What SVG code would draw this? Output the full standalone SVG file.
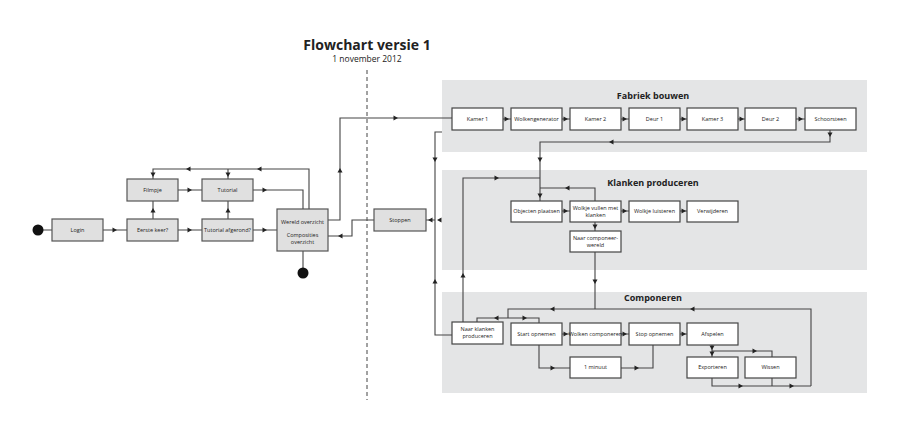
<svg xmlns="http://www.w3.org/2000/svg" width="900" height="431" viewBox="0 0 900 431">
<style>
text{font-family:"Open Sans","DejaVu Sans",sans-serif;fill:#222;text-anchor:middle}
.t{font-size:5.5px}
.h{font-size:9px;font-weight:bold}
.g{fill:#e0e0e0;stroke:#555;stroke-width:1.2}
.w{fill:#fff;stroke:#444;stroke-width:1.2}
.p{fill:#e4e5e6}
.l{fill:none;stroke:#444;stroke-width:1.1}
.a{fill:#222}
</style>
<defs><path id="ar" d="M-2.5,-2.5 L2,0 L-2.5,2.5 z"/></defs>
<rect width="900" height="431" fill="#fff"/>
<text x="367" y="50" style="font-size:14px;font-weight:bold">Flowchart versie 1</text>
<text x="367" y="62" style="font-size:8.5px">1 november 2012</text>
<line x1="367" y1="70" x2="367" y2="400" stroke="#444" stroke-width="1" stroke-dasharray="4,3"/>
<g id="panels">
<rect class="p" x="442" y="80" width="425" height="72"/>
<rect class="p" x="442" y="170" width="425" height="100"/>
<rect class="p" x="442" y="292" width="425" height="101"/>
<text class="h" x="653" y="99">Fabriek bouwen</text>
<text class="h" x="653" y="186">Klanken produceren</text>
<text class="h" x="653" y="301">Componeren</text>
</g>
<g id="connectors">
<path class="l" d="M43,230H52M103,230H127M178,230H202M253,230H277"/>
<path class="l" d="M153,219V201M228,219V201M178,190H202M253,190H303V209M309,209V169H153V179M228,169V179"/>
<path class="l" d="M303,251V268"/>
<path class="l" d="M328,220H340V118H452"/>
<path class="l" d="M374,220H352V236H328"/>
<path class="l" d="M503,119H511M562,119H570M621,119H629M680,119H687M738,119H745M796,119H805"/>
<path class="l" d="M830,130V142H540V201M463,322V178H540M595,201V188H540"/>
<path class="l" d="M562,211H570M621,211H629M680,211H687M595,222V231M595,252V309"/>
<path class="l" d="M442,132H435V335H452M435,220H426"/>
<path class="l" d="M811,386V309H508V318M477,322V318H539V323"/>
<path class="l" d="M562,334H570M621,334H629M680,334H687M539,345V368H570M621,368H653V345"/>
<path class="l" d="M712,345V357M712,351H772V357M712,378V386H811M772,378V386"/>
<g class="a">
<use href="#ar" transform="translate(115,230)"/>
<use href="#ar" transform="translate(190,230)"/>
<use href="#ar" transform="translate(265,230)"/>
<use href="#ar" transform="translate(190,190)"/>
<use href="#ar" transform="translate(265,190)"/>
<use href="#ar" transform="translate(153,210) rotate(-90)"/>
<use href="#ar" transform="translate(228,210) rotate(-90)"/>
<use href="#ar" transform="translate(153,175) rotate(90)"/>
<use href="#ar" transform="translate(228,175) rotate(90)"/>
<use href="#ar" transform="translate(188,169) rotate(180)"/>
<use href="#ar" transform="translate(259,169) rotate(180)"/>
<use href="#ar" transform="translate(340,170) rotate(-90)"/>
<use href="#ar" transform="translate(396,118)"/>
<use href="#ar" transform="translate(340,236) rotate(180)"/>
<use href="#ar" transform="translate(507,119)"/>
<use href="#ar" transform="translate(566,119)"/>
<use href="#ar" transform="translate(625,119)"/>
<use href="#ar" transform="translate(684,119)"/>
<use href="#ar" transform="translate(742,119)"/>
<use href="#ar" transform="translate(801,119)"/>
<use href="#ar" transform="translate(830,135) rotate(90)"/>
<use href="#ar" transform="translate(611,142) rotate(180)"/>
<use href="#ar" transform="translate(540,160) rotate(90)"/>
<use href="#ar" transform="translate(540,196) rotate(90)"/>
<use href="#ar" transform="translate(497,178)"/>
<use href="#ar" transform="translate(567,188) rotate(180)"/>
<use href="#ar" transform="translate(566,211)"/>
<use href="#ar" transform="translate(625,211)"/>
<use href="#ar" transform="translate(684,211)"/>
<use href="#ar" transform="translate(595,227) rotate(90)"/>
<use href="#ar" transform="translate(595,282) rotate(90)"/>
<use href="#ar" transform="translate(435,160) rotate(90)"/>
<use href="#ar" transform="translate(435,281) rotate(-90)"/>
<use href="#ar" transform="translate(430,220) rotate(180)"/>
<use href="#ar" transform="translate(439,220) rotate(180)"/>
<use href="#ar" transform="translate(463,275) rotate(-90)"/>
<use href="#ar" transform="translate(552,309) rotate(180)"/>
<use href="#ar" transform="translate(692,309) rotate(180)"/>
<use href="#ar" transform="translate(496,318) rotate(180)"/>
<use href="#ar" transform="translate(525,318)"/>
<use href="#ar" transform="translate(566,334)"/>
<use href="#ar" transform="translate(625,334)"/>
<use href="#ar" transform="translate(684,334)"/>
<use href="#ar" transform="translate(553,368)"/>
<use href="#ar" transform="translate(637,368)"/>
<use href="#ar" transform="translate(712,348) rotate(90)"/>
<use href="#ar" transform="translate(712,354) rotate(90)"/>
<use href="#ar" transform="translate(755,351)"/>
<use href="#ar" transform="translate(741,386)"/>
<use href="#ar" transform="translate(792,386)"/>
</g>
</g>
<g id="start"><circle cx="38" cy="230" r="5.5" fill="#111"/></g>
<g id="end"><circle cx="303" cy="273" r="5.5" fill="#111"/></g>
<g id="login"><rect class="g" x="52" y="219" width="51" height="22"/><text class="t" x="77.5" y="232">Login</text></g>
<g id="eerste"><rect class="g" x="127" y="219" width="51" height="22"/><text class="t" x="152.5" y="232">Eerste keer?</text></g>
<g id="afgerond"><rect class="g" x="202" y="219" width="51" height="22"/><text class="t" x="227.5" y="232">Tutorial afgerond?</text></g>
<g id="filmpje"><rect class="g" x="127" y="179" width="51" height="22"/><text class="t" x="152.5" y="192">Filmpje</text></g>
<g id="tutorial"><rect class="g" x="202" y="179" width="51" height="22"/><text class="t" x="227.5" y="192">Tutorial</text></g>
<g id="wereld"><rect class="g" x="277" y="209" width="51" height="42"/><text class="t" x="302.5" y="224">Wereld overzicht</text><text class="t" x="302.5" y="237">Composities</text><text class="t" x="302.5" y="244">overzicht</text></g>
<g id="stoppen"><rect class="g" x="374" y="209" width="52" height="22"/><text class="t" x="400" y="222">Stoppen</text></g>
<g id="kamer1"><rect class="w" x="452" y="108" width="51" height="22"/><text class="t" x="477.5" y="121">Kamer 1</text></g>
<g id="wolkengen"><rect class="w" x="511" y="108" width="51" height="22"/><text class="t" x="536.5" y="121">Wolkengenerator</text></g>
<g id="kamer2"><rect class="w" x="570" y="108" width="51" height="22"/><text class="t" x="595.5" y="121">Kamer 2</text></g>
<g id="deur1"><rect class="w" x="629" y="108" width="51" height="22"/><text class="t" x="654.5" y="121">Deur 1</text></g>
<g id="kamer3"><rect class="w" x="687" y="108" width="51" height="22"/><text class="t" x="712.5" y="121">Kamer 3</text></g>
<g id="deur2"><rect class="w" x="745" y="108" width="51" height="22"/><text class="t" x="770.5" y="121">Deur 2</text></g>
<g id="schoorsteen"><rect class="w" x="805" y="108" width="51" height="22"/><text class="t" x="830.5" y="121">Schoorsteen</text></g>
<g id="objecten"><rect class="w" x="511" y="201" width="51" height="21"/><text class="t" x="536.5" y="213">Objecten plaatsen</text></g>
<g id="wolkjevullen"><rect class="w" x="570" y="201" width="51" height="21"/><text class="t" x="595.5" y="210">Wolkje vullen met</text><text class="t" x="595.5" y="217">klanken</text></g>
<g id="luisteren"><rect class="w" x="629" y="201" width="51" height="21"/><text class="t" x="654.5" y="213">Wolkje luisteren</text></g>
<g id="verwijderen"><rect class="w" x="687" y="201" width="51" height="21"/><text class="t" x="712.5" y="213">Verwijderen</text></g>
<g id="naarcomp"><rect class="w" x="570" y="231" width="51" height="21"/><text class="t" x="595.5" y="240">Naar componeer-</text><text class="t" x="595.5" y="247">wereld</text></g>
<g id="naarklanken"><rect class="w" x="452" y="322" width="51" height="22"/><text class="t" x="477.5" y="331">Naar klanken</text><text class="t" x="477.5" y="338">produceren</text></g>
<g id="start-opn"><rect class="w" x="511" y="323" width="51" height="22"/><text class="t" x="536.5" y="336">Start opnemen</text></g>
<g id="wolkencomp"><rect class="w" x="570" y="323" width="51" height="22"/><text class="t" x="595.5" y="336">Wolken componeren</text></g>
<g id="stop-opn"><rect class="w" x="629" y="323" width="51" height="22"/><text class="t" x="654.5" y="336">Stop opnemen</text></g>
<g id="afspelen"><rect class="w" x="687" y="323" width="51" height="22"/><text class="t" x="712.5" y="336">Afspelen</text></g>
<g id="minuut"><rect class="w" x="570" y="357" width="51" height="21"/><text class="t" x="595.5" y="369">1 minuut</text></g>
<g id="exporteren"><rect class="w" x="687" y="357" width="51" height="21"/><text class="t" x="712.5" y="369">Exporteren</text></g>
<g id="wissen"><rect class="w" x="745" y="357" width="51" height="21"/><text class="t" x="770.5" y="369">Wissen</text></g>
</svg>
